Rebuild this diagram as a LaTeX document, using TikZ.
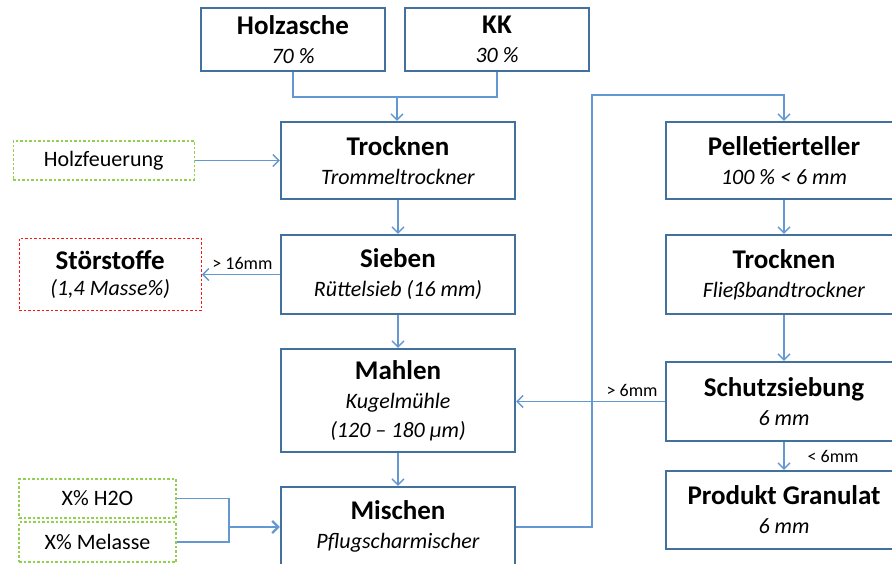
\documentclass[tikz,border=0pt]{standalone}
\usepackage{fontspec}
\setmainfont{Carlito}
\usepackage{tikz}
\usetikzlibrary{arrows.meta,positioning}
\definecolor{rahmenblau}{RGB}{65,113,156}
\definecolor{pfeilblau}{RGB}{100,152,210}
\definecolor{zusatzgruen}{RGB}{146,208,80}
\definecolor{abfallrot}{RGB}{255,20,20}
\newcommand{\kopf}{\fontsize{27}{29}\selectfont\bfseries}

\begin{document}
\begin{tikzpicture}[
  x=1pt, y=1pt,
  node distance=33.6pt and 77.6pt,
  kasten/.style={draw=rahmenblau, line width=2.4pt, fill=white, align=center,
                 inner sep=0pt, minimum width=234pt, minimum height=77pt,
                 font=\fontsize{22}{29}\selectfont},
  zusatz/.style={draw=zusatzgruen, line width=1.3pt, dashed, dash pattern=on 2.5pt off 2pt,
                 align=center, inner sep=0pt, minimum width=157pt, minimum height=39pt,
                 font=\fontsize{22}{26}\selectfont},
  pfeil/.style={-{Straight Barb[length=6pt, width=12pt]}, draw=pfeilblau, line width=1.4pt},
  linie/.style={draw=pfeilblau, line width=1.4pt},
  marke/.style={font=\fontsize{18}{20}\selectfont, inner sep=1pt}
]
\useasboundingbox (0,0) rectangle (892,-564);
\node[kasten, minimum width=184pt, minimum height=63pt] (hasche) at (293,-39.5) {{\kopf Holzasche}\\\textit{70 \%}};
\node[kasten, minimum width=184pt, minimum height=63pt] (kk) at (497,-39.5) {{\kopf KK}\\\textit{30 \%}};
\node[kasten] (trock1) at (398,-160.5) {{\kopf Trocknen}\\\textit{Trommeltrockner}};
\node[kasten, minimum height=79pt, below=33.6pt of trock1] (sieben) {{\kopf Sieben}\\\textit{Rüttelsieb (16 mm)}};
\node[kasten, minimum height=103pt, below=32.6pt of sieben] (mahlen) {{\kopf Mahlen}\\\textit{Kugelmühle}\\\textit{(120 – 180 µm)}};
\node[kasten, minimum height=79pt, below=32.6pt of mahlen] (mischen) {{\kopf Mischen}\\\textit{Pflugscharmischer}};
\node[zusatz, minimum width=181pt, left=85pt of trock1] (holzf) {Holzfeuerung};
\node[zusatz, draw=abfallrot, minimum width=182pt, minimum height=72pt, left=78pt of sieben] (stoer) {{\kopf Störstoffe}\\\textit{(1,4 Masse\%)}};
\node[zusatz] (wasser) at (97.5,-498.5) {X\% H2O};
\node[zusatz, minimum height=40pt] (melasse) at (97.5,-542) {X\% Melasse};
\node[kasten, minimum width=236pt] (pellet) at (784,-160.5) {{\kopf Pelletierteller}\\\textit{100 \% < 6 mm}};
\node[kasten, minimum width=236pt, minimum height=79pt, below=33.6pt of pellet] (trock2) {{\kopf Trocknen}\\\textit{Fließbandtrockner}};
\node[kasten, minimum width=236pt, minimum height=79pt, below=45.6pt of trock2] (schutz) {{\kopf Schutzsiebung}\\\textit{6 mm}};
\node[kasten, minimum width=236pt, minimum height=78pt, below=27.6pt of schutz] (produkt) {{\kopf Produkt Granulat}\\\textit{6 mm}};
\coordinate (treff) at (397,-97);
\coordinate (rueck) at (592,-95);
\coordinate (zusammen) at (229,-527);
\draw[linie] (hasche.south) |- (kk.south |- treff) -- (kk.south);
\draw[pfeil] (treff) -- (treff |- trock1.north);
\draw[pfeil] (holzf) -- (holzf -| trock1.west);
\draw[pfeil] (trock1) -- (sieben);
\draw[pfeil] (sieben) -- (mahlen);
\draw[pfeil] (mahlen) -- (mischen);
\draw[pfeil] (sieben.west) -- node[marke, above=3pt, pos=0.48] {> 16mm} (stoer.east);
\draw[linie] (wasser.east) -| (zusammen);
\draw[linie] (melasse.east) -| (zusammen);
\draw[pfeil, line width=2.2pt] (zusammen) -- (zusammen -| mischen.west);
\draw[pfeil] (mischen.east |- zusammen) -| (rueck) -- (rueck -| pellet.north) -- (pellet.north);
\draw[pfeil] (pellet) -- (trock2);
\draw[pfeil] (trock2) -- (schutz);
\draw[pfeil] (schutz) -- node[marke, right=22pt] {< 6mm} (produkt);
\draw[pfeil] (schutz.west) -- node[marke, above=3pt, pos=0.22] {> 6mm} (schutz.west -| mahlen.east);
\end{tikzpicture}
\end{document}
